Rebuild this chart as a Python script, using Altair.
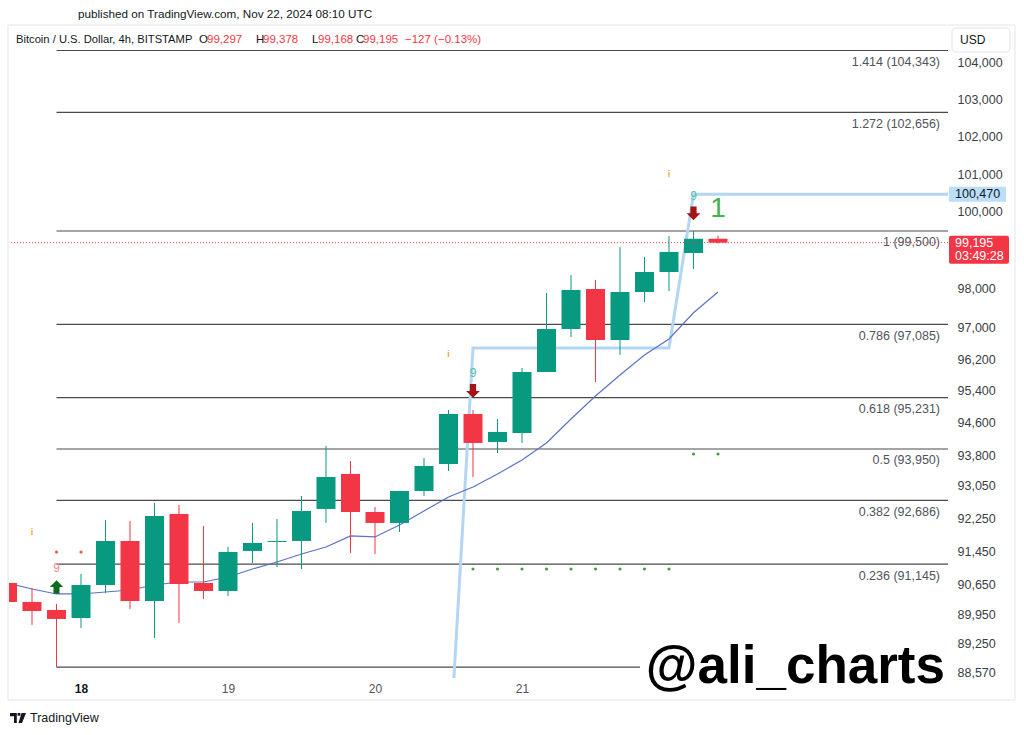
import altair as alt
import pandas as pd

GREEN = "#089981"
RED = "#F23645"
FONT = "Liberation Sans"

# ---- data ----
idx = list(range(30))  # 4h candles, index 3 = Nov 18 00:00
opens = [90693, 90241, 90051, 89861, 90645, 91702, 90264, 92356, 90693, 90502,
         91461, 91678, 91702, 92478, 93334, 92404, 92138, 92917, 93579, 94820,
         94124, 94347, 95874, 96966, 97992, 96685, 97915, 98431, 98925, 99297]
highs = [90741, 90574, 90193, 90908, 92210, 92186, 92624, 92575, 92065, 91557,
         92138, 92234, 92795, 94024, 93653, 92526, 92917, 93727, 94920, 94920,
         94695, 95975, 97889, 98353, 98224, 99081, 98821, 99369, 99500, 99378]
lows = [90170, 89696, 88706, 89625, 90455, 90075, 89390, 89743, 90312, 90383,
        91172, 91076, 91028, 92138, 91413, 91389, 91920, 92795, 93407, 93260,
        93851, 94099, 95874, 96762, 95622, 96304, 97658, 97940, 98509, 99168]
closes = [90241, 90027, 89838, 90645, 91702, 90264, 92307, 90669, 90502, 91437,
          91654, 91702, 92429, 93260, 92404, 92138, 92917, 93530, 94820, 94099,
          94372, 95874, 96966, 97966, 96685, 97915, 98431, 98951, 99297, 99195]
ema = [90693, 90550, 90431, 90431, 90478, 90526, 90645, 90717, 90717, 90836,
       91028, 91196, 91389, 91557, 91823, 91799, 92089, 92429, 92770, 93014,
       93334, 93678, 94099, 94695, 95270, 95800, 96304, 96711, 97381, 97915]

step_x = [18.0, 19, 27, 28, 40]
step_p = [86300, 96480, 96480, 100470, 100470]

fib_ratios = ["1.414", "1.272", "1", "0.786", "0.618", "0.5", "0.382", "0.236", "0"]
fib_prices = [104343, 102656, 99500, 97085, 95231, 93950, 92686, 91145, 88706]
fib_start = 2

green_dot_x = [19, 20, 21, 22, 23, 24, 25, 26, 27, 28, 29]
green_dot_p = [91028] * 9 + [93826] * 2
red_dot_x = [2, 3]
red_dot_p = [91437, 91437]
info_x = [1, 18, 27]
info_p = [91920, 96330, 100995]

last_price = 99195
last_countdown = "03:49:28"
level_price = 100470

y_ticks = [88570, 89250, 89950, 90650, 91450, 92250, 93050, 93800, 94600,
           95400, 96200, 97000, 98000, 100000, 101000, 102000, 103000, 104000]
day_ticks = [3, 9, 15, 21]
day_labels = ["18", "19", "20", "21"]

# ---- tables ----
candles = pd.DataFrame({"i": idx, "o": opens, "h": highs, "l": lows, "c": closes})
candles["dir"] = ["up" if c >= o else "down" for o, c in zip(opens, closes)]
ema_df = pd.DataFrame({"i": idx, "ema": ema})
step_df = pd.DataFrame({"i": step_x, "p": step_p})
fib_df = pd.DataFrame({
    "i": [fib_start] * len(fib_prices),
    "p": fib_prices,
    "label": [f"{r} ({p:,})" if r != "0" else "" for r, p in zip(fib_ratios, fib_prices)],
})

X_SCALE = alt.Scale(domain=[0.0612, 38.388], nice=False, zero=False, padding=0)
Y_SCALE = alt.Scale(type="log", domain=[88452.3, 105045.7], nice=False, zero=False)

label_expr = " : ".join(
    [f"datum.value == {t} ? '{l}'" for t, l in zip(day_ticks, day_labels)]) + " : ''"

x_enc = alt.X("i:Q", scale=X_SCALE, title=None, axis=alt.Axis(
    values=day_ticks, labelExpr=label_expr, grid=False, ticks=False, tickSize=0,
    domain=False, labelPadding=5, labelFontSize=12, labelFont=FONT, zindex=2,
    labelColor={"condition": {"test": f"datum.value == {day_ticks[0]}", "value": "#131722"}, "value": "#50535e"},
    labelFontWeight={"condition": {"test": f"datum.value == {day_ticks[0]}", "value": "bold"}, "value": "normal"},
    labelFlush=False, labelOverlap=False))
y_enc = alt.Y("o:Q", scale=Y_SCALE, title=None, axis=alt.Axis(
    orient="right", values=y_ticks, format=",", grid=False, ticks=False, tickSize=0,
    domain=False, labelPadding=9, labelFontSize=12.5, labelFont=FONT, zindex=2,
    labelColor="#3b3e45", labelFlush=False, labelOverlap=False))

color_enc = alt.Color("dir:N", scale=alt.Scale(domain=["up", "down"], range=[GREEN, RED]), legend=None)

one = pd.DataFrame({"t": [""]})


def ptext(txt, x, y, size, color, weight="normal", align="left", baseline="middle"):
    return alt.Chart(pd.DataFrame({"t": [txt]})).mark_text(
        align=align, baseline=baseline, fontSize=size, color=color,
        fontWeight=weight, font=FONT).encode(
        x=alt.value(x - 9), y=alt.value(y - 25), text="t:N")


def prect(x1, y1, x2, y2, fill, stroke=None, radius=0):
    kw = dict(fill=fill, cornerRadius=radius)
    if stroke:
        kw.update(stroke=stroke, strokeWidth=1)
    return alt.Chart(one).mark_rect(**kw).encode(
        x=alt.value(x1 - 9), x2=alt.value(x2 - 9), y=alt.value(y1 - 25), y2=alt.value(y2 - 25))


frame = alt.Chart(one).mark_rect(fill="white", fillOpacity=0, stroke="#e3e5ea", strokeWidth=1).encode(
    x=alt.value(-1), x2=alt.value(1006), y=alt.value(0), y2=alt.value(675))

bodies = alt.Chart(candles).mark_bar(size=19, clip=True).encode(
    x=x_enc, y=y_enc, y2="c:Q", color=color_enc)
wicks = alt.Chart(candles).mark_rule(strokeWidth=1, clip=True).encode(
    x="i:Q", y=alt.Y("h:Q", title=None), y2="l:Q", color=color_enc)

fib_lines = alt.Chart(fib_df).mark_rule(color="#4a4a4a", strokeWidth=1.2).encode(
    x="i:Q", x2=alt.value(939), y=alt.Y("p:Q", title=None))
fib_text = alt.Chart(fib_df).mark_text(
    align="right", baseline="middle", dy=11.5, fontSize=12.5, color="#50535e", font=FONT).encode(
    x=alt.value(931), y=alt.Y("p:Q", title=None), text="label:N")

ema_line = alt.Chart(ema_df).mark_line(color="#5a72c8", strokeWidth=1.2, clip=True).encode(
    x="i:Q", y=alt.Y("ema:Q", title=None))
step_line = alt.Chart(step_df).mark_line(color="#b3d6f4", strokeWidth=3, clip=True).encode(
    x="i:Q", y=alt.Y("p:Q", title=None))

gdots = alt.Chart(pd.DataFrame({"i": green_dot_x, "p": green_dot_p})).mark_circle(
    size=10, color="#43a047", opacity=1).encode(x="i:Q", y=alt.Y("p:Q", title=None))
rdots = alt.Chart(pd.DataFrame({"i": red_dot_x, "p": red_dot_p})).mark_circle(
    size=10, color="#ef5350", opacity=1).encode(x="i:Q", y=alt.Y("p:Q", title=None))
infos = alt.Chart(pd.DataFrame({"i": info_x, "p": info_p})).mark_text(
    text="i", fontSize=9, fontWeight="bold", color="#f5a623", font=FONT).encode(
    x="i:Q", y=alt.Y("p:Q", title=None))

UP = "M0,-1L1,0L0.45,0L0.45,1L-0.45,1L-0.45,0L-1,0Z"
DOWN = "M0,1L1,0L0.45,0L0.45,-1L-0.45,-1L-0.45,0L-1,0Z"
up_arrow = alt.Chart(pd.DataFrame({"i": [2], "p": [90598]})).mark_point(
    shape=UP, filled=True, size=180, color="#0b6b1f", opacity=1, strokeWidth=0).encode(
    x="i:Q", y=alt.Y("p:Q", title=None))
down_arrows = alt.Chart(pd.DataFrame({"i": [19, 28], "p": [95396, 99963]})).mark_point(
    shape=DOWN, filled=True, size=190, color="#a31515", opacity=1, strokeWidth=0).encode(
    x="i:Q", y=alt.Y("p:Q", title=None))
nine_red = alt.Chart(pd.DataFrame({"i": [2], "p": [91052], "t": ["9"]})).mark_text(
    fontSize=12, color="#ef8a8a", font=FONT).encode(x="i:Q", y=alt.Y("p:Q", title=None), text="t:N")
nine_teal = alt.Chart(pd.DataFrame({"i": [19, 28], "p": [95849, 100420], "t": ["9", "9"]})).mark_text(
    fontSize=12, color="#4fbfa5", font=FONT).encode(x="i:Q", y=alt.Y("p:Q", title=None), text="t:N")
one_big = alt.Chart(pd.DataFrame({"i": [29], "p": [100065], "t": ["1"]})).mark_text(
    fontSize=28, color="#43b049", font=FONT).encode(x="i:Q", y=alt.Y("p:Q", title=None), text="t:N")

price_line = alt.Chart(pd.DataFrame({"p": [last_price]})).mark_rule(
    color=RED, strokeDash=[1, 2], strokeWidth=1).encode(y=alt.Y("p:Q", title=None))
price_box = alt.Chart(pd.DataFrame({"p": [last_price]})).mark_rect(
    color=RED, cornerRadius=2, yOffset=-7, y2Offset=21).encode(
    x=alt.value(940), x2=alt.value(1000), y=alt.Y("p:Q", title=None), y2="p:Q")
price_txt = alt.Chart(pd.DataFrame({"p": [last_price], "t": [f"{last_price:,}"]})).mark_text(
    align="left", baseline="middle", fontSize=12.5, color="white", font=FONT).encode(
    x=alt.value(946), y=alt.Y("p:Q", title=None), text="t:N")
count_txt = alt.Chart(pd.DataFrame({"p": [last_price], "t": [last_countdown]})).mark_text(
    align="left", baseline="middle", dy=13, fontSize=12.5, color="white", font=FONT).encode(
    x=alt.value(946), y=alt.Y("p:Q", title=None), text="t:N")
lvl_box = alt.Chart(pd.DataFrame({"p": [level_price]})).mark_rect(
    color="#bbdefb", yOffset=-7.5, y2Offset=7.5).encode(
    x=alt.value(940), x2=alt.value(997), y=alt.Y("p:Q", title=None), y2="p:Q")
lvl_txt = alt.Chart(pd.DataFrame({"p": [level_price], "t": [f"{level_price:,}"]})).mark_text(
    align="left", baseline="middle", fontSize=12.5, color="#131722", font=FONT).encode(
    x=alt.value(946), y=alt.Y("p:Q", title=None), text="t:N")

TVLOGO = ("M-1,-0.62L-0.15,-0.62L-0.15,0.62L-0.5,0.62L-0.5,-0.22L-1,-0.22Z"
          "M-0.05,-0.62L0.3,-0.62L0.3,-0.27L-0.05,-0.27Z"
          "M0.45,-0.62L1,-0.62L0.5,0.62L0.05,0.62Z")
logo = alt.Chart(one).mark_point(shape=TVLOGO, filled=True, size=256, color="#131722",
                                 opacity=1, strokeWidth=0).encode(
    x=alt.value(18 - 9), y=alt.value(718 - 25))

header = [
    ("Bitcoin / U.S. Dollar, 4h, BITSTAMP", 16, "#131722"),
    ("O", 199, "#131722"), ("99,297", 207, RED),
    ("H", 256, "#131722"), ("99,378", 263, RED),
    ("L", 312, "#131722"), ("99,168", 318, RED),
    ("C", 356, "#131722"), ("99,195", 363, RED),
    ("\u2212127 (\u22120.13%)", 405, RED),
]
header_layers = [ptext(t, x, 40, 11.2 if i == 0 else 11.5, col) for i, (t, x, col) in enumerate(header)]

layers = [
    frame,
    fib_lines, fib_text,
    step_line, ema_line,
    wicks, bodies,
    gdots, rdots, infos, up_arrow, down_arrows, nine_red, nine_teal, one_big,
    price_line,
    prect(640, 628, 949, 699, "white"),
    ptext("@ali_charts", 945, 683, 53, "#000000", weight="bold", align="right", baseline="alphabetic"),
    lvl_box, lvl_txt, price_box, price_txt, count_txt,
    prect(952, 28, 1010, 52, "white", stroke="#e0e3eb", radius=4),
    ptext("USD", 960, 40, 12, "#131722"),
    ptext("published on TradingView.com, Nov 22, 2024 08:10 UTC", 78, 14, 11.7, "#131722"),
    ptext("TradingView", 30, 718, 12.5, "#131722"),
    logo,
] + header_layers

chart = alt.layer(*layers).properties(
    width=939, height=653,
    autosize=alt.AutoSizeParams(type="none"),
    padding={"left": 9, "top": 25, "right": 76, "bottom": 57},
    background="white",
).configure_view(strokeWidth=0)

chart.save("out.html", embed_options={"renderer": "svg", "actions": False})
